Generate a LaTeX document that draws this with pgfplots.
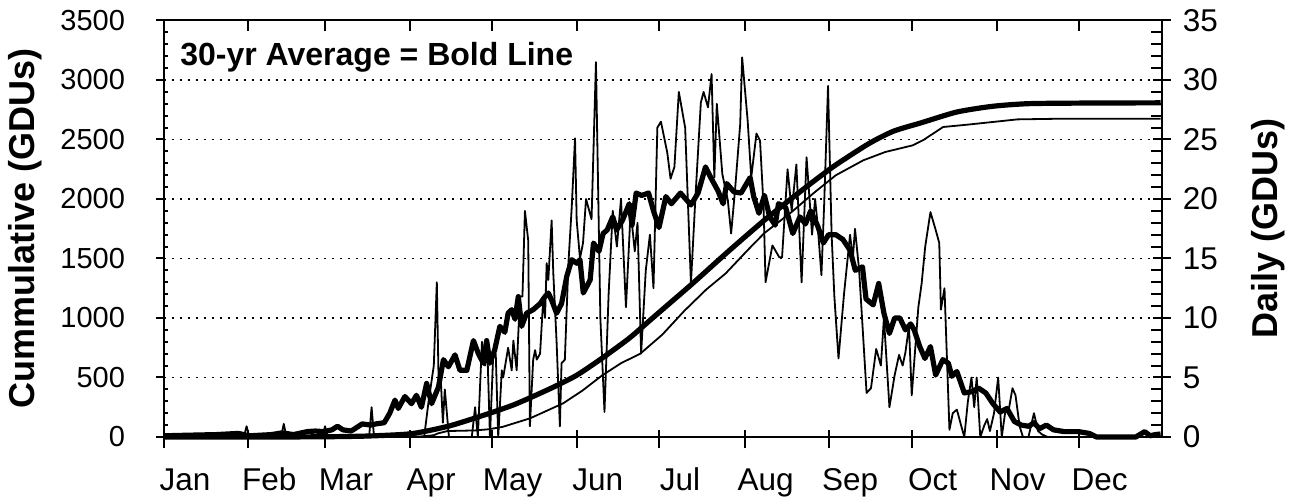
\documentclass[border=0pt]{standalone}
\usepackage{fontspec}
\setmainfont{Liberation Sans}
\usepackage{pgfplots}
\usepackage{pgfplotstable}
\pgfplotsset{compat=1.18}

% day of year (Jan 1 = 1), cumulative GDUs, 30-yr average
\pgfplotstableread{
d v
1 0
40 0
60 2
75 8
91 28
105 95
120 205
128 270
135 340
143 425
151 520
160 660
170 830
177 970
185 1130
193 1290
206 1560
219 1820
232 2060
244 2270
257 2465
266 2570
276 2640
289 2731
302 2779
315 2801
335 2806
363 2808
}\cumavg

% cumulative GDUs, current year
\pgfplotstableread{
d v
1 0
74 0
76.5 2
95 5
99 15
100.5 30
104 50
114 55
119 65
124 85
134 157
146 283
153 390
160 515
167 620
174 700
182 860
190 1060
198 1240
205 1374
213 1570
219 1712
229 1891
237 2050
245 2199
255 2325
263 2395
273 2451
277 2498
284 2605
293 2625
302 2647
311 2669
328 2675
363 2675
}\cumcur

% daily GDUs, current year
\pgfplotstableread{
d v
1 0
30 0
31 0.9
32 0
43.5 0
44.5 1.1
45.5 0
58.5 0
59.5 0.9
60.5 0
75.5 0
76.4 2.5
77.3 0
95.5 0
97 2.8
99 6
100.1 13
100.8 4
101.5 5
102.3 1.2
103 4
104.5 0
112.8 0
114 2.5
115 0
116.5 8
117.6 6
118.5 7
119.4 0
120.6 7
121.5 7
122.4 0
123.7 5.6
124.2 5
126 7.5
127.3 5.6
127.9 8.1
129.1 5.6
130.3 11.8
131.2 11.8
132.1 19.0
133.3 16.5
133.9 0.9
135.1 6.5
135.8 7.3
136.4 6.5
137.6 7
138.8 11.8
139.4 10
140 14.6
140.6 13.2
141.8 18.2
142.4 13.8
143.6 8
144.8 0.9
145.4 6.2
146.6 6.5
147.9 14.6
149.1 19.3
150.3 25.1
150.9 18.2
152.1 15
153.2 16.3
154.3 20.0
156.3 18.3
157.9 31.5
159.5 10
161 2.1
162.5 12
164 19
165.5 16
167 20
168.8 10.9
170.5 19
172 15.6
173 18
174.3 7.0
176 14
177.5 17
178.8 12.5
180.2 26.0
181.5 26.5
183.8 23.9
185 21.7
186.4 22.7
188 29.0
190.3 26.0
192.4 12.9
194 20
196 28.1
197 29.0
198.6 27.7
199.9 30.5
200.9 21.8
201.8 28.0
203.8 22.1
205.8 19.9
207 17.1
208.4 20.7
210.3 26.3
211 31.9
213 26.6
214.3 21.8
216.2 25.5
217.5 24.9
218.8 19.3
219.5 13.0
222 16.1
224.5 15.1
225.5 15.1
227.5 22.5
229 19
230.7 22.9
232.6 13.0
234.4 23.5
236.4 17
237.5 20
238.4 17.9
239.8 13.6
240.8 19.6
242.2 29.5
243.5 17
244.5 11.8
246 6.6
248 12
250.2 17
251.2 15
252 17.5
253.5 14
256.2 3.7
257.8 4.1
259.7 7.4
261.4 6
262.5 10.0
264.5 2.5
266.4 5.2
268 6.9
269.3 6
270.3 7.1
271.6 9.3
272.6 3.5
275 10.9
276.2 12.9
277.5 16
279.4 18.9
281.3 17.4
282.6 16.3
283.2 10.7
284.5 12.5
286.3 0.6
287.5 2
289 2.3
290.5 1
291.7 0
293 3
294.3 5.0
295.3 2.5
296.2 5.0
297.5 0
299 1.0
300 1.5
301 0.5
302.5 2
304 5.0
305.3 0
306.5 2.0
308 2.5
309.2 4.1
310.3 3.5
311.8 0.9
313 0
315 0
317 2.0
318.5 0.5
320 0.2
322 0
363 0
}\daycur

% daily GDUs, 30-yr average
\pgfplotstableread{
d v
1 0.1
10 0.15
20 0.2
28 0.3
32 0.1
40 0.2
44 0.35
48 0.2
53 0.45
56 0.5
59 0.45
62 0.6
64 0.9
66 0.6
69 0.5
71 0.8
73 1.1
76 1.0
78 1.1
81 1.2
83 2.0
84.9 3.1
86.1 2.4
88.5 3.4
90.9 2.8
92.7 3.5
94.5 2.5
96.4 4.5
98.2 2.8
100.7 4.2
102.5 6.5
104.3 5.9
106.7 6.9
108.5 5.6
111 5.6
113.4 8.1
115.2 7.0
117 6.2
118.2 8.1
119.4 6.2
121.1 7.3
123 9.3
124.8 8.8
126 10.4
127.3 10.7
128.5 9.9
129.7 11.8
130.9 9.3
132.7 10.4
135.1 10.7
137.6 11.2
139.4 11.8
140.6 12.1
141.8 11.5
143.6 10.4
145.4 11.2
147.3 13.5
149.1 14.9
150.9 14.6
152.1 14.9
153.3 12.1
155.8 13.2
157 16.3
159 15.6
160.5 17.1
162 17.4
164 18.5
165.4 17.4
167.5 18.2
170 19.6
171 17.8
172.5 20.5
174.5 20.3
177 20.5
178.8 19.0
180.8 17.6
183.3 20.2
185.3 19.6
188.6 20.5
192.4 19.5
195 20.5
197.7 22.7
199.6 21.8
202.2 20.7
204.1 19.6
205.4 21.3
208 20.6
210.6 20.5
213.9 21.8
215.2 20.2
217.1 18.8
219.1 20.3
221 18.5
223 17.8
224.2 19.6
226.8 19.3
229.4 17.1
232 18.5
234 17.9
235.9 19.0
238.5 17.7
240.5 16.3
242.4 17.0
245 17.0
247.6 16.6
250.2 15.7
252.1 14.0
254.7 14.3
256 11.6
258.6 11.1
260.6 12.9
262.5 10.4
264.5 8.7
266.4 10.0
268.3 10.0
270.3 9.0
272.2 9.5
273.5 9.0
275.5 7.6
277.4 6.6
279.4 7.6
281.3 5.2
283.9 6.5
285.9 6.2
287.2 5.1
289 5.5
291.7 3.7
294.3 3.8
296.9 4.1
299.5 3.7
302.1 2.8
304.7 2.1
307.2 2.4
309.9 1.3
312.4 1.0
315.1 0.9
317 1.2
319 0.7
321.5 1.0
324.1 0.6
328 0.45
333.2 0.45
337.1 0.3
339.7 0.0
354 0.0
357.2 0.45
359.2 0.1
361 0.2
363 0.25
}\dayavg

\pgfplotsset{
  base/.style={
    scale only axis, width=498.85pt, height=208.25pt,
    xmin=1, xmax=363.4, clip=false,
    axis line style={line width=1pt, black},
    every tick/.style={line width=1pt, black},
    tick label style={font=\fontsize{15.75}{18}\selectfont},
    /pgf/number format/assume math mode=true,
    /pgf/number format/1000 sep={},
  },
  thinline/.style={black, line width=0.9pt, line join=round, no marks},
  boldline/.style={black, line width=2.6pt, line join=round, no marks},
}

\begin{document}
\begin{tikzpicture}
% left axis: cumulative
\begin{axis}[base,
  ymin=0, ymax=3500, ytick={0,500,...,3500}, minor y tick num=4,
  ytick pos=left, xtick=\empty,
  yticklabel style={font=\fontsize{14.5}{17}\selectfont, xshift=-12pt},
  tick align=outside, major tick length=4pt, minor tick length=2pt,
  minor y tick style={xshift=2pt},
  ymajorgrids,
  major grid style={dash pattern=on 1pt off 3pt, line width=0.9pt, black},
  ylabel={Cummulative (GDUs)},
  every axis y label/.style={at={(axis description cs:-0.1393,0.5)}, rotate=90, anchor=center,
    font=\fontsize{18}{20}\selectfont\bfseries},
]
\addplot[boldline, smooth, tension=0.4] table[x=d,y=v] {\cumavg};
\addplot[thinline] table[x=d,y=v] {\cumcur};
\node[anchor=base west, font=\fontsize{16}{18}\selectfont\bfseries, inner sep=0pt]
  at (axis description cs:0.016,0.893) {30-yr Average = Bold Line};
\coordinate (bl) at (axis description cs:0,0);
\coordinate (tr) at (axis description cs:1,1);
\end{axis}
% right axis: daily
\begin{axis}[base,
  ymin=0, ymax=35, ytick={0,5,...,35}, minor y tick num=4,
  axis y line*=right, axis x line*=bottom,
  xtick={1,31.6,59.5,90.4,120,150.9,180.8,211.9,242.6,272.6,303.4,333.2},
  xticklabels={Jan,Feb,Mar,Apr,May,Jun,Jul,Aug,Sep,Oct,Nov,Dec},
  xticklabel style={anchor=north, text height=12pt, xshift=10.5pt, yshift=-6.75pt},
  yticklabel style={xshift=2.5pt},
  tick align=center, major tick length=9pt, minor tick length=5.6pt,
  minor y tick style={xshift=-2.8pt},
  major x tick style={yshift=-1.25pt},
  ylabel={Daily (GDUs)},
  every axis y label/.style={at={(axis description cs:1.1068,0.5)}, rotate=90, anchor=center,
    font=\fontsize{18}{20}\selectfont\bfseries},
]
\addplot[thinline] table[x=d,y=v] {\daycur};
\addplot[boldline] table[x=d,y=v] {\dayavg};
\end{axis}
% top ticks
\begin{axis}[base,
  ymin=0, ymax=1, axis x line*=top, axis y line=none,
  xtick={1,31.6,59.5,90.4,120,150.9,180.8,211.9,242.6,272.6,303.4,333.2},
  xticklabels={}, tick align=inside, major tick length=5.5pt,
]
\addplot[draw=none] coordinates {(1,0)};
\end{axis}
\pgfresetboundingbox
\path[use as bounding box] ([shift={(-82pt,-31.5pt)}]bl) rectangle ([shift={(71.15pt,10.25pt)}]tr);
\end{tikzpicture}
\end{document}
